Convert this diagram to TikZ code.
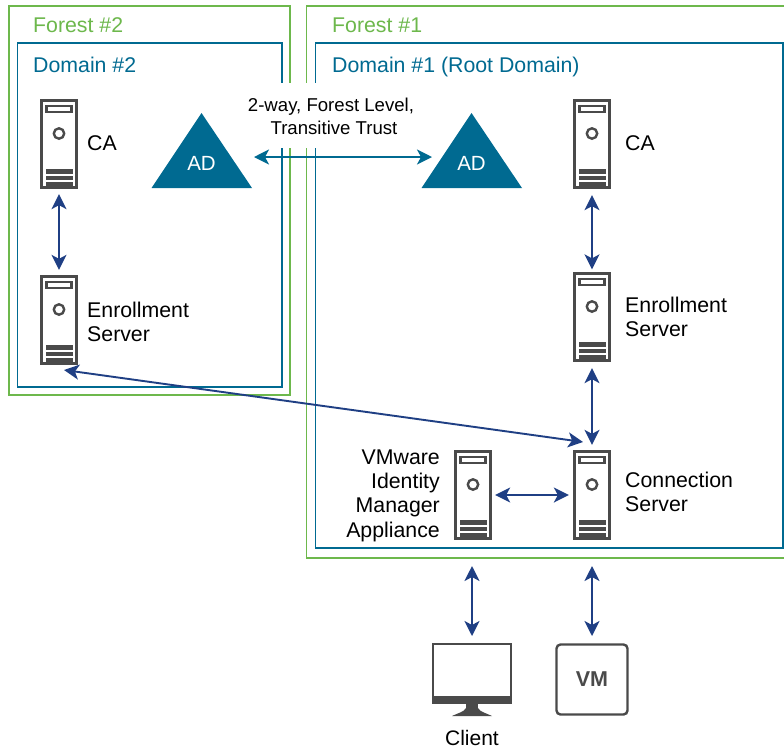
\documentclass[tikz,border=0pt]{standalone}
\usepackage{fontspec}
\setmainfont{Liberation Sans}
\usetikzlibrary{arrows.meta}
\definecolor{forestg}{HTML}{6DB84C}
\definecolor{domainb}{HTML}{006A91}
\definecolor{navy}{HTML}{1F3F84}
\definecolor{icon}{HTML}{4A4A4A}
\tikzset{
 forestframe/.style={draw=forestg,line width=1.9pt},
 domainframe/.style={draw=domainb,line width=1.9pt},
 forestlabel/.style={text=forestg,anchor=base west,font=\fontsize{21.3}{24}\selectfont,inner sep=0pt},
 domainlabel/.style={text=domainb,anchor=base west,font=\fontsize{21.3}{24}\selectfont,inner sep=0pt},
 lbl/.style={anchor=west,align=left,font=\fontsize{21.3}{24}\selectfont,inner sep=0pt},
 lblr/.style={anchor=east,align=right,font=\fontsize{21.3}{24.3}\selectfont,inner sep=0pt},
 conn/.style={draw=navy,line width=1.9pt,{Stealth[length=15pt,width=15pt,inset=4pt]}-{Stealth[length=15pt,width=15pt,inset=4pt]}},
 trust/.style={draw=domainb,line width=1.9pt,{Stealth[length=15pt,width=15pt,inset=4pt]}-{Stealth[length=15pt,width=15pt,inset=4pt]}},
 adtri/.style={fill=domainb,draw=none},
 serverbox/.style={draw=icon,line width=2.8pt,fill=white,minimum width=34.5pt,minimum height=87.5pt,inner sep=0pt,outer sep=1.4pt},
 server/.pic={
  \node[serverbox] (-box) at (0,0) {};
  \draw[icon,line width=2.3pt] (-12.5,-38) rectangle (12.5,-32);
  \draw[icon,line width=2.4pt] (0,-10.5) circle (5.2);
  \fill[icon] (-13.5,25) rectangle (13.5,29.5);
  \fill[icon] (-13.5,31.5) rectangle (13.5,36);
  \fill[icon] (-13.5,38) rectangle (13.5,42.5);
 }
}
\begin{document}
\begin{tikzpicture}[x=1pt,y=-1pt]
\useasboundingbox (0,0) rectangle (784,748);
\fill[white] (0,0) rectangle (784,748);
% frames
\draw[forestframe] (9,6) rectangle (290,395);
\draw[domainframe] (17.5,43) rectangle (282,387);
\begin{scope}
\clip (0,0) rectangle (784,748);
\draw[forestframe] (306.5,6) rectangle (790,558);
\draw[domainframe] (315.5,43) rectangle (783,548);
\end{scope}
\node[forestlabel] (f2) at (33,32) {Forest \#2};
\node[domainlabel] (d2) at (33,72.5) {Domain \#2};
\node[forestlabel] (f1) at (332,32) {Forest \#1};
\node[domainlabel] (d1) at (332,72.5) {Domain \#1 (Root Domain)};
% servers
\pic (ca2) at (59,144) {server};
\pic (en2) at (59,320) {server};
\pic (ca1) at (592,144) {server};
\pic (en1) at (592,317) {server};
\pic (cs) at (592,495) {server};
\pic (vim) at (473,495) {server};
\node[lbl] (ca2t) at (87,143) {CA};
\node[lbl] (en2t) at (87,322) {Enrollment\\Server};
\node[lbl] (ca1t) at (625,143) {CA};
\node[lbl] (en1t) at (625,317) {Enrollment\\Server};
\node[lbl] (cst) at (625,492) {Connection\\Server};
\node[lblr] (vimt) at (440,495.5) {VMware\\Identity\\Manager\\Appliance};
% AD
\fill[adtri] (201.5,113) -- (252,188) -- (151.5,188) -- cycle;
\fill[adtri] (471.5,113) -- (522,188) -- (421.5,188) -- cycle;
\node[text=white,font=\fontsize{20.5}{24}\selectfont,inner sep=0pt] (ad2) at (201.5,163) {AD};
\node[text=white,font=\fontsize{20.5}{24}\selectfont,inner sep=0pt] (ad1) at (471.5,163) {AD};
% trust label
\fill[white] (248,83) rectangle (414,148);
\node[align=center,font=\fontsize{18.6}{22.5}\selectfont,inner sep=0pt] (tr) at (331,116.5) {2-way, Forest Level,\\\hspace*{6pt}Transitive Trust};
\coordinate (adl) at (254,157);
\coordinate (adr) at (432,157);
\draw[trust] (adl) -- (adr);
% connectors
\draw[conn,shorten <=5pt,shorten >=5pt] (ca2-box.south) -- (en2-box.north);
\draw[conn,shorten <=6pt,shorten >=2.5pt] (ca1-box.south) -- (en1-box.north);
\draw[conn,shorten <=6pt,shorten >=5pt] (en1-box.south) -- (cs-box.north);
\draw[conn,shorten <=3.5pt,shorten >=4.5pt] (vim-box.east) -- (cs-box.west);
\coordinate (e2end) at (64,370);
\coordinate (csend) at (583,442);
\draw[conn] (e2end) -- (csend);
% bottom icons
\coordinate (cltop) at (472,636);
\coordinate (vimbot) at (472,566);
\coordinate (vmtop) at (592,636);
\coordinate (csbot) at (592,566);
\draw[conn] (vimbot) -- (cltop);
\draw[conn] (csbot) -- (vmtop);
% client monitor
\draw[icon,line width=2pt] (433,644) rectangle (511,697);
\fill[icon] (432,696) rectangle (512,703.5);
\fill[icon] (466,703) rectangle (478,710);
\fill[icon] (466,708) .. controls (464,712) and (458,713) .. (452,716) -- (492,716) .. controls (486,713) and (480,712) .. (478,708) -- cycle;
\node[font=\fontsize{21}{24}\selectfont,inner sep=0pt] (cl) at (472,737.5) {Client};
% VM
\node[draw=icon,line width=2.4pt,rounded corners=4pt,minimum width=71pt,minimum height=70pt,inner sep=0pt,text=icon,font=\fontsize{21.5}{24}\bfseries\selectfont] (vm) at (592,679.5) {VM};
\end{tikzpicture}
\end{document}
